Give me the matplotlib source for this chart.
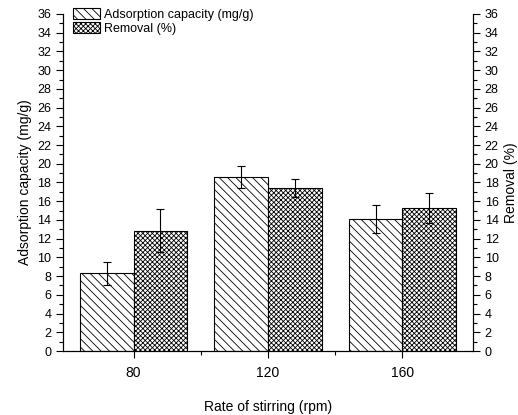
import matplotlib
matplotlib.use('Agg')
import matplotlib.pyplot as plt
import numpy as np
from matplotlib.ticker import MultipleLocator

plt.rcParams['font.family'] = ['Liberation Sans', 'DejaVu Sans']
plt.rcParams['hatch.linewidth'] = 0.6

rpm = [80, 120, 160]
capacity = [8.3, 18.6, 14.1]
capacity_err = [1.25, 1.2, 1.45]
removal = [12.85, 17.45, 15.3]
removal_err = [2.3, 0.95, 1.6]

barW = 16
x = np.array(rpm)

fig = plt.figure(figsize=(5.18, 4.15), dpi=100)
ax = fig.add_axes([63/518, 1-351/415, 410/518, 337/415])
ax2 = ax.twinx()

b1 = ax.bar(x - barW/2, capacity, barW, color='white', edgecolor='black',
            hatch='\\\\\\\\', linewidth=0.8, label='Adsorption capacity (mg/g)')
ax.errorbar(x - barW/2, capacity, yerr=capacity_err, fmt='none', ecolor='black',
            elinewidth=0.8, capsize=3, capthick=0.8)
b2 = ax2.bar(x + barW/2, removal, barW, color='white', edgecolor='black',
             hatch='xxxxxxx', linewidth=0.8, label='Removal (%)')
ax2.errorbar(x + barW/2, removal, yerr=removal_err, fmt='none', ecolor='black',
             elinewidth=0.8, capsize=3, capthick=0.8)

for a in (ax, ax2):
    a.set_ylim(0, 36)
    a.set_xlim(59, 181)
    a.yaxis.set_major_locator(MultipleLocator(2))
    a.yaxis.set_minor_locator(MultipleLocator(1))
    a.spines['top'].set_visible(False)
    a.tick_params(which='major', direction='out', length=5, width=0.8, labelsize=9)
    a.tick_params(which='minor', direction='out', length=3, width=0.8)

ax.set_xticks(rpm)
ax.set_xticks([100, 140], minor=True)
ax.set_xticklabels([str(r) for r in rpm], fontsize=10)
ax.tick_params(axis='x', which='major', pad=6)

ax.set_xlabel('Rate of stirring (rpm)', fontsize=10, labelpad=14)
ax.set_ylabel('Adsorption capacity (mg/g)', fontsize=10, labelpad=4)
ax2.set_ylabel('Removal (%)', fontsize=10, labelpad=4)

ax.legend([b1, b2], ['Adsorption capacity (mg/g)', 'Removal (%)'],
          loc='upper left', bbox_to_anchor=(0.005, 1.04), frameon=False,
          fontsize=9, handlelength=2.2, handleheight=1.0, handletextpad=0.3,
          labelspacing=0.1, borderaxespad=0.2)

plt.savefig('out.png', dpi=100)
